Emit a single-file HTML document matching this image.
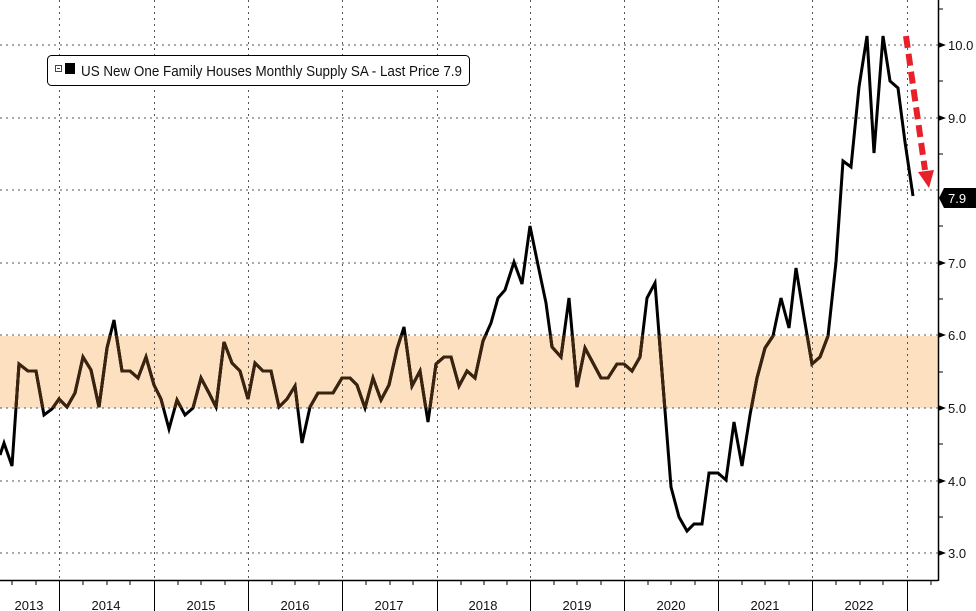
<!DOCTYPE html>
<html><head><meta charset="utf-8"><style>
html,body{margin:0;padding:0;background:#fff;}
svg{display:block;}
text{font-family:"Liberation Sans",sans-serif;}
</style></head><body>
<svg width="976" height="611" viewBox="0 0 976 611" xmlns="http://www.w3.org/2000/svg">
<defs>
<clipPath id="band"><rect x="0" y="335" width="938" height="73"/></clipPath>
</defs>
<rect x="0" y="0" width="976" height="611" fill="#fff"/>
<!-- band -->
<rect x="0" y="336" width="938" height="72" fill="#fde0c0"/>
<!-- horizontal grid -->
<g stroke="#555" stroke-width="1" stroke-dasharray="2,4">
<line x1="0" y1="45" x2="938" y2="45"/>
<line x1="0" y1="118" x2="938" y2="118"/>
<line x1="0" y1="190" x2="938" y2="190"/>
<line x1="0" y1="263" x2="938" y2="263"/>
<line x1="0" y1="335" x2="938" y2="335"/>
<line x1="0" y1="408" x2="938" y2="408"/>
<line x1="0" y1="481" x2="938" y2="481"/>
<line x1="0" y1="553" x2="938" y2="553"/>
</g>
<!-- vertical grid -->
<g stroke="#555" stroke-width="1" stroke-dasharray="2,4">
<line x1="59.5" y1="0" x2="59.5" y2="580"/>
<line x1="154.5" y1="0" x2="154.5" y2="580"/>
<line x1="248.5" y1="0" x2="248.5" y2="580"/>
<line x1="342.5" y1="0" x2="342.5" y2="580"/>
<line x1="437.5" y1="0" x2="437.5" y2="580"/>
<line x1="530.5" y1="0" x2="530.5" y2="580"/>
<line x1="624.5" y1="0" x2="624.5" y2="580"/>
<line x1="718.5" y1="0" x2="718.5" y2="580"/>
<line x1="812.5" y1="0" x2="812.5" y2="580"/>
<line x1="907.5" y1="0" x2="907.5" y2="580"/>
</g>
<!-- series -->
<polyline id="ser" fill="none" stroke="#000" stroke-width="3" stroke-linejoin="miter" points="0,455 4,443 12,466 19,364 28,371 36,371 44,415 52,409 59,399 67,407 75,393 83,357 91,370 99,407 107,348 114,320 122,371 130,371 138,378 146,357 154,385 161,399 169,429 177,400 185,415 193,408 201,378 209,393 216,407 224,342 232,363 240,371 248,399 255,363 263,371 271,371 279,407 287,399 295,386 302,443 310,407 318,393 326,393 333,393 342,378 350,378 357,385 365,408 373,378 381,400 389,385 397,349 404,327 412,386 420,371 428,422 436,364 444,357 451,357 459,386 467,371 475,378 483,341 491,323 498,298 505,290 514,262 522,284 530,226 538,265 546,303 552,347 561,357 569,298 577,387 585,348 593,363 601,378 608,378 617,364 624,364 632,371 640,357 647,298 655,283 663,385 671,487 679,517 687,531 694,524 702,524 709,473 718,473 726,480 734,422 742,466 750,415 757,378 765,348 773,336 781,298 789,328 796,268 804,317 812,364 820,357 828,336 836,262 843,161 851,167 859,87 867,36 874,153 883,36 890,81 898,88 905,142 913,196"/>
<use href="#ser" clip-path="url(#band)" stroke="#3a2410"/>
<polyline clip-path="url(#band)" fill="none" stroke="#3a2410" stroke-width="3" points="0,455 4,443 12,466 19,364 28,371 36,371 44,415 52,409 59,399 67,407 75,393 83,357 91,370 99,407 107,348 114,320 122,371 130,371 138,378 146,357 154,385 161,399 169,429 177,400 185,415 193,408 201,378 209,393 216,407 224,342 232,363 240,371 248,399 255,363 263,371 271,371 279,407 287,399 295,386 302,443 310,407 318,393 326,393 333,393 342,378 350,378 357,385 365,408 373,378 381,400 389,385 397,349 404,327 412,386 420,371 428,422 436,364 444,357 451,357 459,386 467,371 475,378 483,341 491,323 498,298 505,290 514,262 522,284 530,226 538,265 546,303 552,347 561,357 569,298 577,387 585,348 593,363 601,378 608,378 617,364 624,364 632,371 640,357 647,298 655,283 663,385 671,487 679,517 687,531 694,524 702,524 709,473 718,473 726,480 734,422 742,466 750,415 757,378 765,348 773,336 781,298 789,328 796,268 804,317 812,364 820,357 828,336 836,262 843,161 851,167 859,87 867,36 874,153 883,36 890,81 898,88 905,142 913,196"/>
<!-- red arrow -->
<line x1="906" y1="36" x2="925" y2="170" stroke="#e8202a" stroke-width="6" stroke-dasharray="12,6"/>
<polygon points="918,172 934,170 929,188" fill="#e8202a"/>
<!-- legend -->
<rect x="47.5" y="55.5" width="422" height="30" rx="4" fill="#fff" stroke="#000" stroke-width="1"/>
<rect x="55.5" y="65.5" width="6" height="6" fill="none" stroke="#444" stroke-width="1"/>
<line x1="57" y1="68.5" x2="60" y2="68.5" stroke="#444"/>
<rect x="65" y="63" width="10" height="11" fill="#000"/>
<text x="81" y="76" font-size="15" fill="#111" textLength="381" lengthAdjust="spacingAndGlyphs">US New One Family Houses Monthly Supply SA - Last Price 7.9</text>
<!-- right axis -->
<line x1="938.5" y1="0" x2="938.5" y2="581" stroke="#000" stroke-width="1.5"/>
<g stroke="#000" stroke-width="1">
<line x1="938" y1="9" x2="943" y2="9"/>
<line x1="938" y1="81" x2="943" y2="81"/>
<line x1="938" y1="154" x2="943" y2="154"/>
<line x1="938" y1="226" x2="943" y2="226"/>
<line x1="938" y1="299" x2="943" y2="299"/>
<line x1="938" y1="372" x2="943" y2="372"/>
<line x1="938" y1="444" x2="943" y2="444"/>
<line x1="938" y1="517" x2="943" y2="517"/>
</g>
<g fill="#000">
<polygon points="938,42 946,45 938,48"/>
<polygon points="938,115 946,118 938,121"/>
<polygon points="938,260 946,263 938,266"/>
<polygon points="938,332 946,335 938,338"/>
<polygon points="938,405 946,408 938,411"/>
<polygon points="938,478 946,481 938,484"/>
<polygon points="938,550 946,553 938,556"/>
</g>
<g font-size="13" fill="#111">
<text x="948" y="50">10.0</text>
<text x="948" y="123">9.0</text>
<text x="948" y="268">7.0</text>
<text x="948" y="340">6.0</text>
<text x="948" y="413">5.0</text>
<text x="948" y="486">4.0</text>
<text x="948" y="558">3.0</text>
</g>
<polygon points="944,188 976,188 976,208 944,208 939,198" fill="#000"/>
<text x="948" y="203" font-size="13" fill="#fff">7.9</text>
<!-- bottom axis -->
<line x1="0" y1="580.5" x2="938" y2="580.5" stroke="#000" stroke-width="1.5"/>
<g stroke="#000" stroke-width="1">
<line x1="59.5" y1="580" x2="59.5" y2="611"/>
<line x1="154.5" y1="580" x2="154.5" y2="611"/>
<line x1="248.5" y1="580" x2="248.5" y2="611"/>
<line x1="342.5" y1="580" x2="342.5" y2="611"/>
<line x1="437.5" y1="580" x2="437.5" y2="611"/>
<line x1="530.5" y1="580" x2="530.5" y2="611"/>
<line x1="624.5" y1="580" x2="624.5" y2="611"/>
<line x1="718.5" y1="580" x2="718.5" y2="611"/>
<line x1="812.5" y1="580" x2="812.5" y2="611"/>
<line x1="907.5" y1="580" x2="907.5" y2="611"/>
</g>
<g stroke="#000" stroke-width="1">
<line x1="12" y1="580" x2="12" y2="585"/><line x1="36" y1="580" x2="36" y2="585"/>
<line x1="83" y1="580" x2="83" y2="585"/><line x1="107" y1="580" x2="107" y2="585"/><line x1="130" y1="580" x2="130" y2="585"/>
<line x1="178" y1="580" x2="178" y2="585"/><line x1="201" y1="580" x2="201" y2="585"/><line x1="225" y1="580" x2="225" y2="585"/>
<line x1="272" y1="580" x2="272" y2="585"/><line x1="295" y1="580" x2="295" y2="585"/><line x1="319" y1="580" x2="319" y2="585"/>
<line x1="366" y1="580" x2="366" y2="585"/><line x1="390" y1="580" x2="390" y2="585"/><line x1="413" y1="580" x2="413" y2="585"/>
<line x1="461" y1="580" x2="461" y2="585"/><line x1="484" y1="580" x2="484" y2="585"/><line x1="507" y1="580" x2="507" y2="585"/>
<line x1="554" y1="580" x2="554" y2="585"/><line x1="577" y1="580" x2="577" y2="585"/><line x1="601" y1="580" x2="601" y2="585"/>
<line x1="648" y1="580" x2="648" y2="585"/><line x1="671" y1="580" x2="671" y2="585"/><line x1="695" y1="580" x2="695" y2="585"/>
<line x1="742" y1="580" x2="742" y2="585"/><line x1="765" y1="580" x2="765" y2="585"/><line x1="789" y1="580" x2="789" y2="585"/>
<line x1="836" y1="580" x2="836" y2="585"/><line x1="860" y1="580" x2="860" y2="585"/><line x1="883" y1="580" x2="883" y2="585"/>
<line x1="931" y1="580" x2="931" y2="585"/>
</g>
<g font-size="13" fill="#111" text-anchor="middle">
<text x="29" y="610">2013</text>
<text x="106" y="610">2014</text>
<text x="201" y="610">2015</text>
<text x="295" y="610">2016</text>
<text x="389" y="610">2017</text>
<text x="483" y="610">2018</text>
<text x="577" y="610">2019</text>
<text x="671" y="610">2020</text>
<text x="765" y="610">2021</text>
<text x="859" y="610">2022</text>
</g>
</svg>
</body></html>
